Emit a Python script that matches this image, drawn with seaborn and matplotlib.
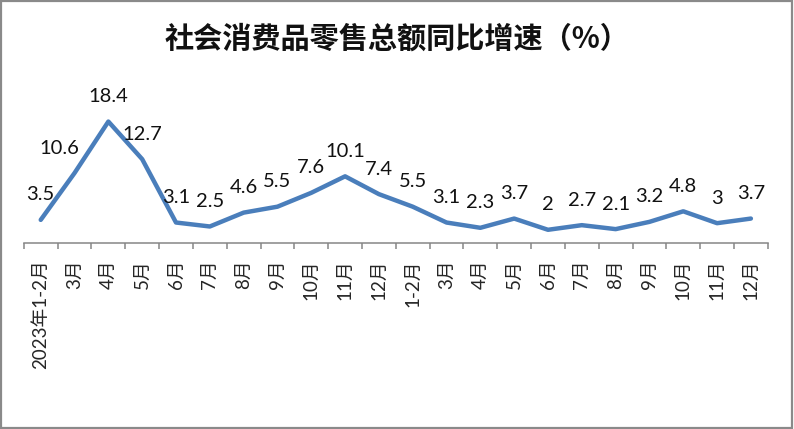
import numpy as np
import pandas as pd
import matplotlib
matplotlib.use("Agg")
import matplotlib.pyplot as plt
import seaborn as sns
from matplotlib.patches import Rectangle

# 月份标签和同比增速(%)
months = ["2023年1-2月", "3月", "4月", "5月", "6月", "7月", "8月", "9月", "10月", "11月", "12月",
          "1-2月", "3月", "4月", "5月", "6月", "7月", "8月", "9月", "10月", "11月", "12月"]
growth = [3.5, 10.6, 18.4, 12.7, 3.1, 2.5, 4.6, 5.5, 7.6, 10.1, 7.4,
          5.5, 3.1, 2.3, 3.7, 2, 2.7, 2.1, 3.2, 4.8, 3, 3.7]
title = "社会消费品零售总额同比增速（%）"

sns.set_style("white")
plt.rcParams['font.family'] = ['Lato', 'Noto Sans CJK SC', 'DejaVu Sans']

df = pd.DataFrame({"idx": np.arange(len(growth)), "growth": growth})

fig = plt.figure(figsize=(7.94, 4.29), dpi=100)
ax = fig.add_axes([0.030, 0.4336, 0.937, 0.3077])

sns.lineplot(data=df, x="idx", y="growth", ax=ax, color="#4A7EBB", linewidth=3.2)

ax.set_xlim(-0.5, len(growth) - 0.5)
ax.set_ylim(0, 20)
ax.set_xlabel("")
ax.set_ylabel("")
ax.set_yticks([])

# ticks at category boundaries, labels at centres
ax.set_xticks(np.arange(len(growth) + 1) - 0.5)
ax.set_xticklabels([])
ax.tick_params(axis="x", which="major", bottom=True, direction="out", length=4.5, width=1.1,
               color="#868686")
ax.set_xticks(np.arange(len(growth)), minor=True)
ax.set_xticklabels(months, minor=True, rotation=90, fontsize=13.5, va="top", ha="center")
ax.tick_params(axis="x", which="minor", bottom=True, length=0, pad=12)

for side in ["left", "right", "top"]:
    ax.spines[side].set_visible(False)
ax.spines["bottom"].set_color("#868686")
ax.spines["bottom"].set_linewidth(1.1)

# data labels
dx = {1: -11}
for i, v in enumerate(growth):
    ax.annotate(f"{v:g}", (i, v), xytext=(dx.get(i, 0), 18), textcoords="offset points",
                ha="center", va="center", fontsize=14.5, color="#111111",
                annotation_clip=False)

fig.text(0.5, 0.911, title, ha="center", va="center", fontsize=21,
         family=['Noto Sans CJK SC', 'DejaVu Sans'], fontweight="bold", color="#111111")

fig.patches.append(Rectangle((0.001, 0.002), 0.997, 0.995, transform=fig.transFigure,
                             fill=False, edgecolor="#8a8a8a", linewidth=1.6))

fig.savefig("out.png", dpi=100)
